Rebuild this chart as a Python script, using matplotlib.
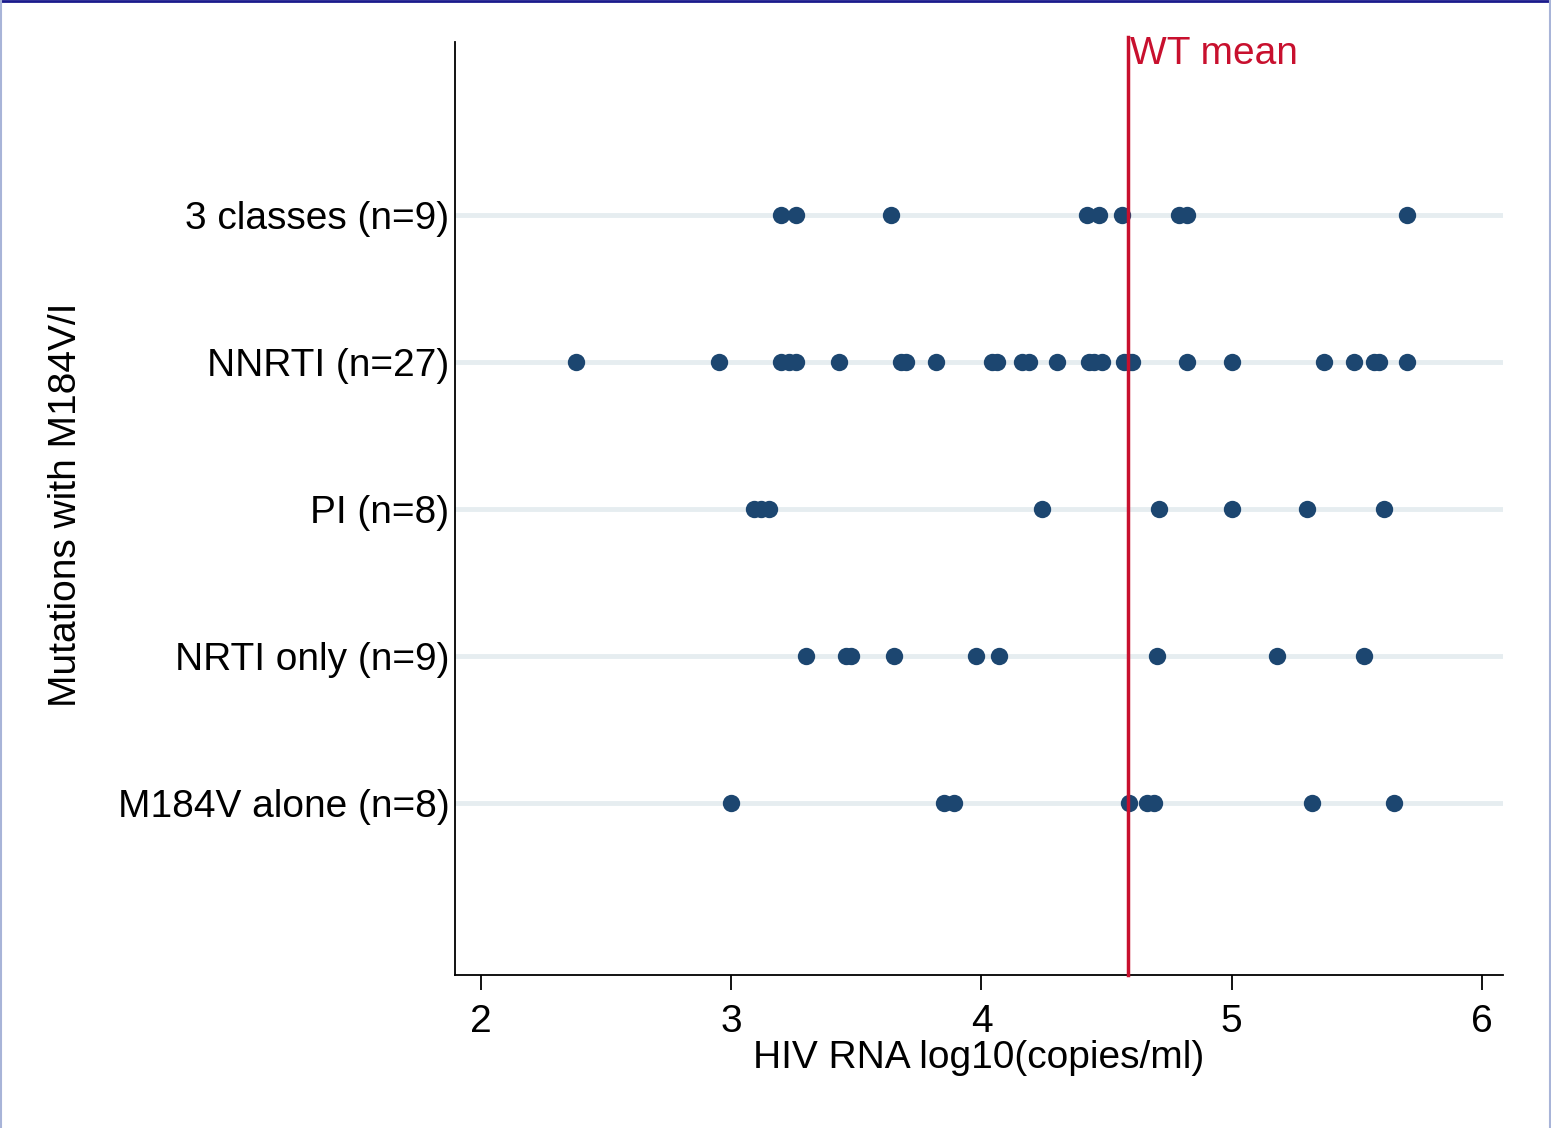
import matplotlib
matplotlib.use("Agg")
import matplotlib.pyplot as plt
from matplotlib.lines import Line2D

plt.rcParams['font.family'] = ['Liberation Sans', 'DejaVu Sans']

# categories, bottom to top
groups = ["M184V alone (n=8)", "NRTI only (n=9)", "PI (n=8)",
          "NNRTI (n=27)", "3 classes (n=9)"]

# HIV RNA log10 values
m184v_alone = [3.00, 3.85, 3.89, 4.59, 4.66, 4.69, 5.32, 5.65]
nrti_only = [3.30, 3.46, 3.48, 3.65, 3.98, 4.07, 4.70, 5.18, 5.53]
pi_only = [3.09, 3.12, 3.15, 4.24, 4.71, 5.00, 5.30, 5.61]
nnrti = [2.38, 2.95, 3.20, 3.23, 3.26, 3.43, 3.68, 3.70, 3.82, 4.04,
         4.06, 4.16, 4.19, 4.30, 4.43, 4.45, 4.48, 4.57, 4.59, 4.60,
         4.82, 5.00, 5.37, 5.49, 5.57, 5.59, 5.70]
three_classes = [3.20, 3.26, 3.64, 4.42, 4.47, 4.56, 4.79, 4.82, 5.70]

series = [m184v_alone, nrti_only, pi_only, nnrti, three_classes]
wt_mean = 4.585
xticks = [2, 3, 4, 5, 6]

dot_color = "#1c4670"
red = "#c8102e"
fs = 28

fig = plt.figure(figsize=(15.51, 11.28), dpi=100)
ax = fig.add_axes([0.2934, 0.1356, 0.969 - 0.2934, 0.9628 - 0.1356])

for i, vals in enumerate(series, start=1):
    ax.axhline(i, color="#e6edf0", lw=3.5, zorder=1)
    ax.plot(vals, [i] * len(vals), linestyle="none", marker="o",
            markersize=12.5, color=dot_color, markeredgewidth=0, zorder=3)

ax.axvline(wt_mean, ymin=0, ymax=1.005, color=red, lw=2.5, zorder=4,
           clip_on=False)
ax.text(wt_mean + 0.01, 6.1, "WT mean", color=red, fontsize=fs,
        ha="left", va="center")

ax.set_xlim(1.896, 6.084)
ax.set_ylim(-0.17, 6.18)
ax.set_xticks(xticks)
ax.set_xticklabels([str(t) for t in xticks])
ax.set_yticks(range(1, len(groups) + 1))
ax.set_yticklabels(groups)

ax.tick_params(axis="x", length=11, width=1.3, pad=10, labelsize=fs)
ax.tick_params(axis="y", length=0, pad=4, labelsize=fs)

for s in ["top", "right"]:
    ax.spines[s].set_visible(False)
ax.spines["left"].set_linewidth(1.3)
ax.spines["bottom"].set_linewidth(1.3)

ax.set_xlabel("HIV RNA log10(copies/ml)", fontsize=fs, labelpad=0)
ax.set_ylabel("Mutations with M184V/I", fontsize=fs)
ax.yaxis.set_label_coords(-0.354, 0.504)

# thin frame around the picture
fig.add_artist(Line2D([0, 1], [0.999, 0.999], color="#1a1a8c", lw=2,
                      transform=fig.transFigure))
fig.add_artist(Line2D([0.0005, 0.0005], [0, 1], color="#a8b4d8", lw=1.5,
                      transform=fig.transFigure))
fig.add_artist(Line2D([0.9995, 0.9995], [0, 1], color="#a8b4d8", lw=1.5,
                      transform=fig.transFigure))

fig.savefig("out.png", dpi=100)
